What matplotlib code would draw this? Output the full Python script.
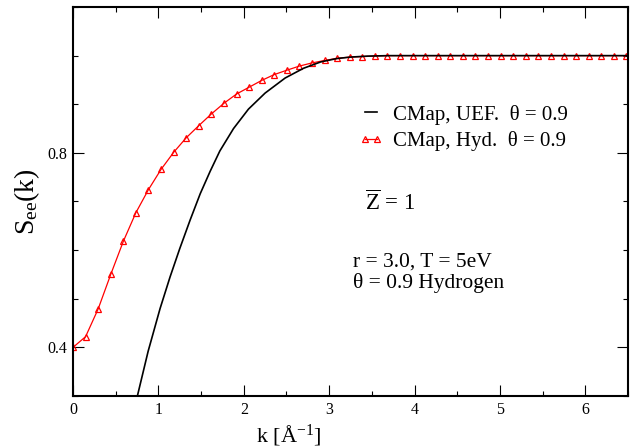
import numpy as np
import matplotlib
matplotlib.use("Agg")
import matplotlib.pyplot as plt
from matplotlib.ticker import MultipleLocator, FixedLocator

plt.rcParams['font.family'] = ['Liberation Serif', 'DejaVu Serif']
plt.rcParams['mathtext.fontset'] = 'custom'
plt.rcParams['mathtext.rm'] = 'Liberation Serif'
plt.rcParams['mathtext.it'] = 'Liberation Serif:italic'
plt.rcParams['mathtext.bf'] = 'Liberation Serif:bold'

# Hydrogen CMap (red triangles), k spacing ~0.1473
hyd_k_step = 0.1473
hyd_y = [0.400, 0.422, 0.479, 0.550, 0.618, 0.677, 0.7245, 0.766, 0.801, 0.831,
         0.856, 0.880, 0.902, 0.921, 0.935, 0.949, 0.961, 0.970, 0.9785, 0.985,
         0.990, 0.9945, 0.997, 0.998, 0.999, 1.0, 1.0, 1.0, 1.0, 1.0,
         1.0, 1.0, 1.0, 1.0, 1.0, 1.0, 1.0, 1.0, 1.0, 1.0,
         1.0, 1.0, 1.0, 1.0, 1.0]
hyd_k = [i * hyd_k_step for i in range(len(hyd_y))]

# UEF CMap (black line)
uef_k = [0.754, 0.88, 1.02, 1.137, 1.25, 1.372, 1.49, 1.606, 1.72, 1.88,
         2.055, 2.25, 2.485, 2.70, 2.90, 3.09, 3.25, 3.45, 3.7, 4.0, 6.5]
uef_y = [0.30, 0.392, 0.480, 0.545, 0.603, 0.662, 0.716, 0.762, 0.804, 0.850,
         0.890, 0.923, 0.954, 0.974, 0.987, 0.994, 0.997, 0.999, 1.0, 1.0, 1.0]

xticks = [0, 1, 2, 3, 4, 5, 6]
yticks = [0.4, 0.8]

fig = plt.figure(figsize=(6.33, 4.48), dpi=100)
ax = fig.add_axes([73/633, 1-396/448, 555/633, 389/448])

ax.plot(hyd_k, hyd_y, color='red', lw=0.9, marker='^', ms=5,
        mfc='none', mec='red', mew=0.9, label='CMap, Hyd.  θ = 0.9', zorder=2)
ax.plot(uef_k, uef_y, color='black', lw=1.2, label='CMap, UEF.  θ = 0.9', zorder=3)

ax.set_xlim(0, 6.5)
ax.set_ylim(0.3, 1.1)
ax.xaxis.set_major_locator(FixedLocator(xticks))
ax.xaxis.set_minor_locator(MultipleLocator(0.5))
ax.yaxis.set_major_locator(FixedLocator(yticks))
ax.yaxis.set_minor_locator(MultipleLocator(0.1))
ax.set_xticklabels([str(v) for v in xticks])
ax.set_yticklabels([f"{v:.1f}" for v in yticks])
ax.tick_params(which='both', direction='in', top=True, right=True, width=0.8, labelsize=11.5)
ax.tick_params(which='major', length=7.7, pad=4)
ax.tick_params(which='minor', length=3.8)
for s in ax.spines.values():
    s.set_linewidth(1.5)

ax.set_ylabel(r'S$_{\mathrm{ee}}$(k)', fontsize=20)
ax.yaxis.set_label_coords(-0.056, 0.5)
ax.set_xlabel(r'k [Å$^{\mathrm{-1}}$]', fontsize=16)
ax.xaxis.set_label_coords(0.389, -0.068)

h, l = ax.get_legend_handles_labels()
leg = ax.legend([h[1], h[0]], [l[1], l[0]], loc='upper left',
                bbox_to_anchor=(0.515, 0.749), frameon=False, fontsize=15,
                handlelength=1.15, handletextpad=0.5, labelspacing=0.3,
                borderpad=0, borderaxespad=0, numpoints=2)

ax.text(0.526, 0.496, r'$\overline{\mathrm{Z}}$ = 1', transform=ax.transAxes,
        fontsize=16.5, va='center', ha='left')
ax.text(0.505, 0.345, 'r = 3.0, T = 5eV', transform=ax.transAxes,
        fontsize=15.5, va='center', ha='left')
ax.text(0.505, 0.291, 'θ = 0.9 Hydrogen', transform=ax.transAxes,
        fontsize=15.5, va='center', ha='left')

fig.savefig('out.png', dpi=100)
